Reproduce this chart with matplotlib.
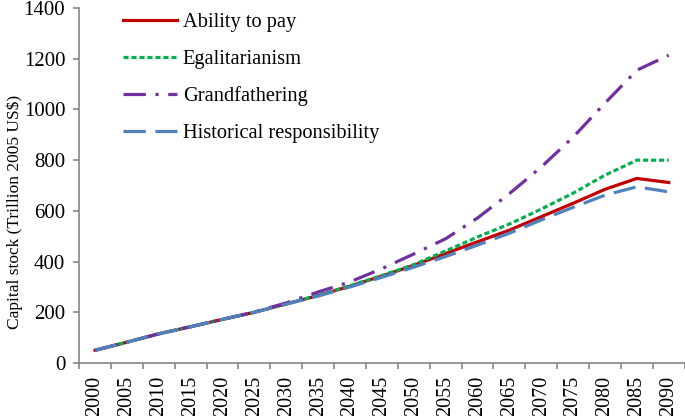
import numpy as np
import matplotlib
matplotlib.use("Agg")
import matplotlib.pyplot as plt
from matplotlib.ticker import FixedLocator, NullFormatter

plt.rcParams["font.family"] = ["Liberation Serif", "DejaVu Serif"]

years = [str(y) for y in range(2000, 2095, 5)]
ability_to_pay = [50, 82, 115, 143, 172, 200, 233, 266, 303, 343, 385, 432, 478, 524, 577, 630, 685, 728, 712]
egalitarianism = [50, 82, 115, 143, 172, 200, 233, 267, 305, 345, 388, 442, 497, 548, 607, 670, 741, 800, 800]
grandfathering = [50, 82, 115, 143, 172, 201, 237, 280, 320, 372, 430, 490, 572, 668, 773, 891, 1025, 1155, 1214]
historical = [50, 82, 115, 143, 172, 200, 232, 264, 300, 338, 378, 420, 465, 512, 564, 614, 662, 695, 675]

fig = plt.figure(figsize=(6.85, 4.16), dpi=100)
ax = fig.add_axes([0.1155, 0.1275, 0.884, 0.853])
x = np.arange(len(years))
ax.plot(x, ability_to_pay, color="#C00000", lw=2.3, label="Ability to pay")
ax.plot(x, egalitarianism, color="#00B050", lw=2.3, dashes=(1.6, 0.9), label="Egalitarianism")
ax.plot(x, grandfathering, color="#7030A0", lw=2.3, dashes=(7, 3, 1, 3), label="Grandfathering")
ax.plot(x, historical, color="#4F81BD", lw=2.3, dashes=(7, 3), label="Historical responsibility")

ax.set_xlim(-0.5, len(years) - 0.5)
ax.set_ylim(0, 1400)
ax.set_yticks(range(0, 1401, 200))
ax.set_xticks(x)
ax.set_xticklabels(years, rotation=90)
ax.tick_params(axis="x", which="major", length=0, pad=9, labelsize=14.5)
ax.xaxis.set_minor_locator(FixedLocator(np.arange(-0.5, len(years), 1)))
ax.xaxis.set_minor_formatter(NullFormatter())
ax.tick_params(axis="x", which="minor", length=4.5, width=1.2, color="#868686", direction="out")
ax.tick_params(axis="y", length=4.5, width=1.2, pad=5.5, color="#868686", labelsize=15)
for s in ["top", "right"]:
    ax.spines[s].set_visible(False)
for s in ["left", "bottom"]:
    ax.spines[s].set_color("#868686")
    ax.spines[s].set_linewidth(1.2)
ax.set_ylabel("Capital stock (Trillion 2005 US$)", fontsize=12.5)
ax.yaxis.set_label_coords(-0.093, 0.425)

ax.legend(loc="upper left", bbox_to_anchor=(0.072, 0.987), frameon=False, fontsize=14.7,
          borderpad=0, borderaxespad=0, handlelength=2.65, handletextpad=0.3, labelspacing=0.86)

fig.savefig("out.png", dpi=100)
